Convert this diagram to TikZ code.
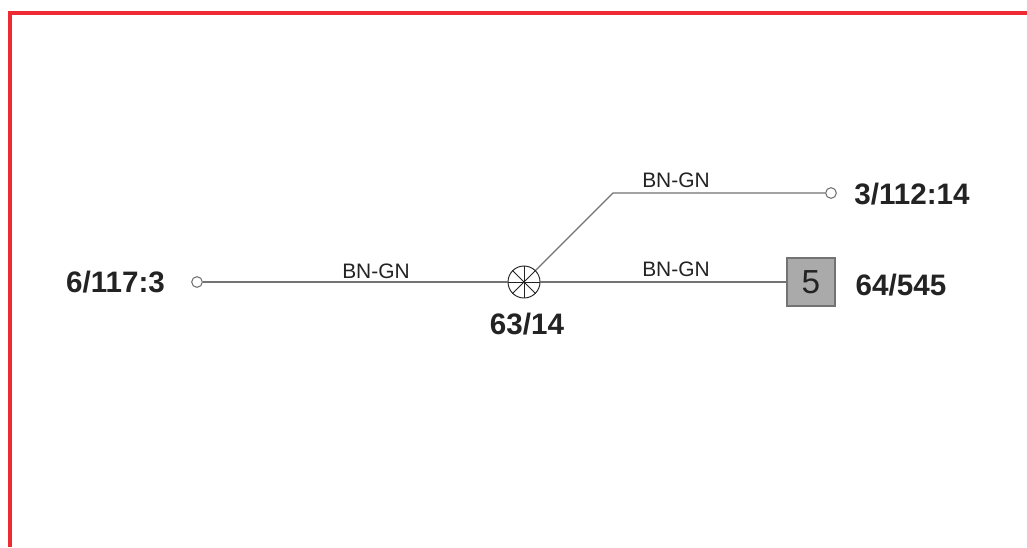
\documentclass[tikz,border=0pt]{standalone}
\usepackage{fontspec}
\setmainfont{Liberation Sans}
\definecolor{framered}{RGB}{238,42,50}
\definecolor{wiregray}{RGB}{115,115,115}
\definecolor{boxfill}{RGB}{170,170,170}
\definecolor{boxedge}{RGB}{115,115,115}
\definecolor{inkdark}{RGB}{35,35,35}
\tikzset{
  x=0.75pt,y=-0.75pt,
  frameline/.style={draw=framered,line width=2.6pt},
  wire/.style={draw=wiregray,line width=0.95pt},
  terminal/.style={circle,draw=wiregray,fill=white,line width=0.8pt,minimum size=8pt,inner sep=0pt},
  lamp/.style={circle,draw=inkdark,fill=white,line width=0.7pt,minimum size=24pt,inner sep=0pt},
  spoke/.style={draw=inkdark,line width=0.55pt},
  boxnode/.style={draw=boxedge,fill=boxfill,line width=1.3pt,minimum size=36pt,inner sep=0pt,font=\fontsize{25}{27}\selectfont,text=inkdark},
  reflabel/.style={font=\fontsize{22.2}{24}\selectfont\bfseries,text=inkdark,inner sep=0pt},
  wirelabel/.style={font=\fontsize{15.7}{17}\selectfont,text=inkdark,inner sep=0pt}
}
\begin{document}
\begin{tikzpicture}
\useasboundingbox (0,0) rectangle (1027,547);
\fill[white] (0,0) rectangle (1027,547);
\coordinate (frameBL) at (10,547);
\coordinate (frameTL) at (10,13);
\coordinate (frameTR) at (1027,13);
\draw[frameline] (frameBL) -- (frameTL) -- (frameTR);
\node[terminal] (tl) at (197,282) {};
\node[terminal] (tr) at (831,193) {};
\node[lamp] (lp) at (524,282) {};
\node[boxnode] (bx) at (811,282) {5};
\coordinate (bend) at (613,193);
\draw[wire] (tl) -- (lp);
\draw[wire] (lp) -- (bx);
\draw[wire] (lp.45) -- (bend) -- (tr);
\draw[spoke] (lp.west) -- (lp.east);
\draw[spoke] (lp.north) -- (lp.south);
\draw[spoke] (lp.45) -- (lp.225);
\draw[spoke] (lp.135) -- (lp.315);
\node[wirelabel] (w1) at (376,271) {BN-GN};
\node[wirelabel] (w2) at (676,180) {BN-GN};
\node[wirelabel] (w3) at (676,269) {BN-GN};
\node[reflabel] (l1) at (115.5,282) {6/117:3};
\node[reflabel] (l2) at (912,194) {3/112:14};
\node[reflabel] (l3) at (901,285) {64/545};
\node[reflabel] (l4) at (527,324) {63/14};
\end{tikzpicture}
\end{document}
